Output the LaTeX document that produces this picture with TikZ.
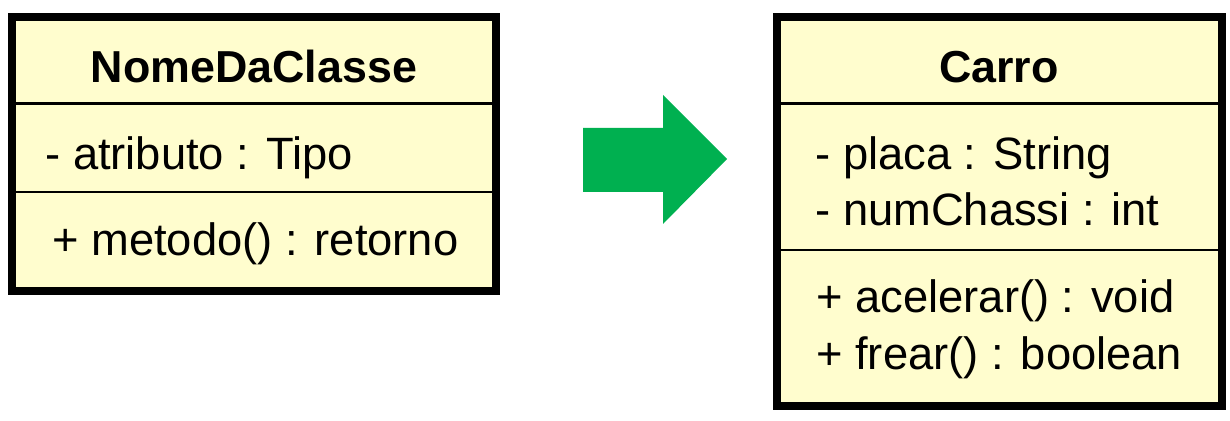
\documentclass[tikz,border=0pt]{standalone}
\usepackage{fontspec}
\setmainfont{Liberation Sans}
\definecolor{classfill}{RGB}{255,253,206}
\definecolor{arrowgreen}{RGB}{0,176,80}
\tikzset{
  classbox/.style={draw=black, line width=4.5pt, fill=classfill},
  divider/.style={draw=black, line width=1.7pt},
  classname/.style={inner sep=0pt, anchor=base, font=\fontsize{25.5}{30}\selectfont\bfseries},
  member/.style={inner sep=0pt, anchor=base west, font=\fontsize{25.8}{30}\selectfont},
}
\begin{document}
\begin{tikzpicture}[x=0.02cm, y=-0.02cm]
                \useasboundingbox (0, 0) rectangle (1230, 421);
                % Left class:
                \draw[classbox] (12, 17) rectangle (496, 291);
                \draw[divider] (12, 104) -- (496, 104);
                \draw[divider] (12, 192) -- (496, 192);
                \node[classname](T1) at (254, 83){NomeDaClasse};
                \node[member](A1) at (45, 170){- atributo : Tipo};
                \node[member](M1) at (52, 256){+ metodo() : retorno};
                % Arrow:
                \fill[arrowgreen] (583, 128) -- (663, 128) -- (663, 95) -- (727, 159)
                  -- (663, 224) -- (663, 192) -- (583, 192) -- cycle;
                % Right class:
                \draw[classbox] (777, 17) rectangle (1222, 406);
                \draw[divider] (777, 104) -- (1222, 104);
                \draw[divider] (777, 250) -- (1222, 250);
                \node[classname](T2) at (999, 83){Carro};
                \node[member](A2) at (815, 170){- placa : String};
                \node[member](A3) at (815, 226){- numChassi : int};
                \node[member](M2) at (816, 313){+ acelerar() : void};
                \node[member](M3) at (816, 370){+ frear() : boolean};
            \end{tikzpicture}
\end{document}
